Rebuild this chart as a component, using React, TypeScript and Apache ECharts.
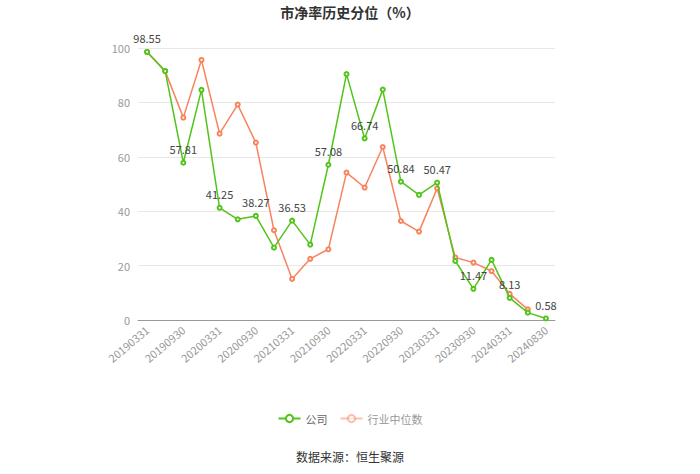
import React, { useEffect, useRef } from "react";
import * as echarts from "echarts";

const categories = [
  "20190331", "20190630", "20190930", "20191231",
  "20200331", "20200630", "20200930", "20201231",
  "20210331", "20210630", "20210930", "20211231",
  "20220331", "20220630", "20220930", "20221231",
  "20230331", "20230630", "20230930", "20231231",
  "20240331", "20240630", "20240830",
];

const companyValues = [
  98.55, 91.5, 57.81, 84.6, 41.25, 37.0, 38.27, 26.6, 36.53, 27.7, 57.08, 90.4,
  66.74, 84.7, 50.84, 46.0, 50.47, 21.7, 11.47, 22.1, 8.13, 2.7, 0.58,
];

const industryValues: (number | null)[] = [
  98.5, 91.5, 74.4, 95.6, 68.5, 79.2, 65.2, 33.0, 15.1, 22.5, 26.0, 54.2,
  48.7, 63.6, 36.4, 32.5, 48.4, 23.0, 21.1, 18.0, 9.6, 3.9, null,
];

const yTicks = [0, 20, 40, 60, 80, 100];

const FONT = "'Noto Sans CJK SC', 'Noto Sans', sans-serif";
const GREEN = "#52C41A";
const ORANGE = "#F7845E";

export default function App() {
  const ref = useRef<HTMLDivElement>(null);

  useEffect(() => {
    document.body.style.margin = "0";
    if (!ref.current) return;
    const chart = echarts.init(ref.current, null, { renderer: "svg" });
    chart.setOption({
      animation: false,
      backgroundColor: "#ffffff",
      textStyle: { fontFamily: FONT },
      title: {
        text: "市净率历史分位（%）",
        left: "center",
        top: 0,
        textStyle: { fontSize: 14, fontWeight: "bold", color: "#333", fontFamily: FONT },
      },
      legend: {
        top: 408,
        left: "center",
        itemWidth: 22,
        itemHeight: 9,
        itemGap: 12,
        textStyle: { fontSize: 11, color: "#666", fontFamily: FONT },
        data: [
          { name: "公司" },
          { name: "行业中位数", itemStyle: { opacity: 0.5 }, lineStyle: { opacity: 0.5 }, textStyle: { color: "#999" } },
        ],
      },
      graphic: [
        {
          type: "text",
          left: "center",
          top: 450,
          style: { text: "数据来源：恒生聚源", fontSize: 12, fill: "#333", fontFamily: FONT },
        },
      ],
      grid: { left: 138, right: 145, top: 48, bottom: 154 },
      xAxis: {
        type: "category",
        data: categories,
        boundaryGap: true,
        axisLine: { lineStyle: { color: "#999" } },
        axisTick: { alignWithLabel: true, interval: 1, lineStyle: { color: "#999" } },
        axisLabel: { interval: 1, rotate: 40, color: "#999", fontSize: 11, fontFamily: FONT },
      },
      yAxis: {
        type: "value",
        min: yTicks[0],
        max: yTicks[yTicks.length - 1],
        interval: 20,
        axisLine: { show: false },
        axisTick: { show: false },
        axisLabel: { color: "#999", fontSize: 11, fontFamily: FONT },
        splitLine: { lineStyle: { color: "#e8e8e8" } },
      },
      series: [
        {
          name: "公司",
          type: "line",
          data: companyValues,
          symbol: "emptyCircle",
          symbolSize: 4,
          color: GREEN,
          lineStyle: { width: 1.5, color: GREEN },
          itemStyle: { color: GREEN },
          z: 3,
          label: {
            show: true,
            position: "top",
            color: "#444",
            fontSize: 11,
            fontFamily: FONT,
            formatter: (p: any) => (p.dataIndex % 2 === 0 ? String(p.value) : ""),
          },
        },
        {
          name: "行业中位数",
          type: "line",
          data: industryValues,
          symbol: "emptyCircle",
          symbolSize: 4,
          color: ORANGE,
          lineStyle: { width: 1.5, color: ORANGE },
          itemStyle: { color: ORANGE },
          z: 2,
        },
      ],
    });
    return () => chart.dispose();
  }, []);

  return <div ref={ref} style={{ width: 700, height: 474 }} />;
}
